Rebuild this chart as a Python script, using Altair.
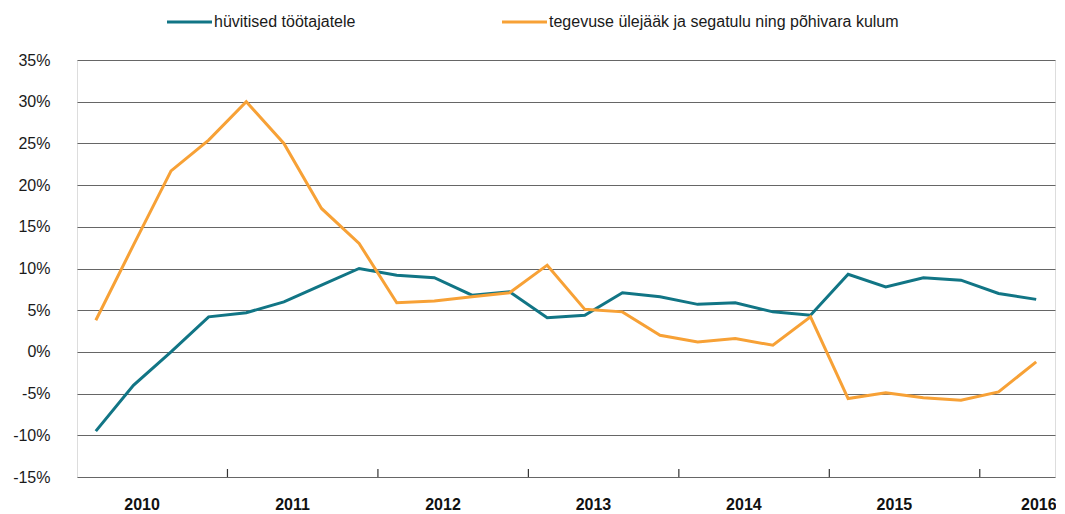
import altair as alt
import pandas as pd

series_names = ["hüvitised töötajatele", "tegevuse ülejääk ja segatulu ning põhivara kulum"]
series_colors = ["#117585", "#f7a136"]

quarters = [f"{y}Q{q}" for y in range(2010, 2017) for q in range(1, 5)][:26]
quarter_index = list(range(len(quarters)))

compensation = [-9.5, -4.0, 0.0, 4.2, 4.7, 6.0, 8.0, 10.0, 9.2, 8.9, 6.8, 7.2, 4.1,
                4.4, 7.1, 6.6, 5.7, 5.9, 4.8, 4.4, 9.3, 7.8, 8.9, 8.6, 7.0, 6.3]
surplus = [3.8, 12.8, 21.7, 25.4, 30.0, 25.0, 17.2, 13.0, 5.9, 6.1, 6.6, 7.1, 10.4,
           5.1, 4.8, 2.0, 1.2, 1.6, 0.8, 4.2, -5.6, -4.9, -5.5, -5.8, -4.8, -1.2]

year_labels = ["2010", "2011", "2012", "2013", "2014", "2015", "2016"]
year_label_pos = [1.23, 5.23, 9.23, 13.23, 17.23, 21.23, 25.07]
year_tick_pos = [3.5, 7.5, 11.5, 15.5, 19.5, 23.5]
y_ticks = [-15, -10, -5, 0, 5, 10, 15, 20, 25, 30, 35]

rows = []
for name, vals in zip(series_names, [compensation, surplus]):
    for i, q, v in zip(quarter_index, quarters, vals):
        rows.append({"t": i, "quarter": q, "v": v, "series": name})
df = pd.DataFrame(rows)

W, H = 978, 417
FONT = "Liberation Sans"

xscale = alt.Scale(domain=[-0.5, 25.5], nice=False, zero=False)
yscale = alt.Scale(domain=[-15, 35], nice=False, zero=False)

lines = alt.Chart(df).mark_line(strokeWidth=3).encode(
    x=alt.X("t:Q", scale=xscale, axis=None),
    y=alt.Y("v:Q", scale=yscale, axis=alt.Axis(
        values=y_ticks, labelExpr="datum.value + '%'", grid=True,
        gridColor="#666666", gridWidth=1.2, domain=False, ticks=False,
        labelPadding=27, labelFontSize=16, labelFont=FONT, labelColor="#1a1a1a",
        title=None)),
    color=alt.Color("series:N", scale=alt.Scale(domain=series_names, range=series_colors),
                    legend=None),
    detail="series:N",
    order=alt.Order("t:Q"),
)

ticks = alt.Chart(pd.DataFrame({"t": year_tick_pos})).mark_rule(
    color="#333333", strokeWidth=1.2).encode(
    x=alt.X("t:Q", scale=xscale), y=alt.value(H), y2=alt.value(H - 8))

years = alt.Chart(pd.DataFrame({"t": year_label_pos, "label": year_labels})).mark_text(
    fontSize=16, fontWeight="bold", font=FONT, color="#111111", baseline="alphabetic",
    align="center").encode(
    x=alt.X("t:Q", scale=xscale), y=alt.value(H + 33), text="label:N")

# manual legend
legend_x = [90, 425]
legend_layers = []
for i, name in enumerate(series_names):
    ldf = pd.DataFrame({"series": [name]})
    legend_layers.append(
        alt.Chart(ldf).mark_rule(strokeWidth=3, color=series_colors[i]).encode(
            x=alt.value(legend_x[i]), x2=alt.value(legend_x[i] + 45), y=alt.value(-38)))
    legend_layers.append(
        alt.Chart(ldf).mark_text(fontSize=16, font=FONT, color="#1a1a1a", align="left",
                                 baseline="middle").encode(
            x=alt.value(legend_x[i] + 47), y=alt.value(-38), text="series:N"))

chart = alt.layer(lines, ticks, years, *legend_layers).properties(
    width=W, height=H,
    autosize=alt.AutoSizeParams(type="none"),
    padding={"left": 69, "top": 52, "right": 1, "bottom": 37},
).configure_view(stroke=None).configure(font=FONT)

chart.save("out.html", embed_options={"renderer": "svg", "actions": False})
